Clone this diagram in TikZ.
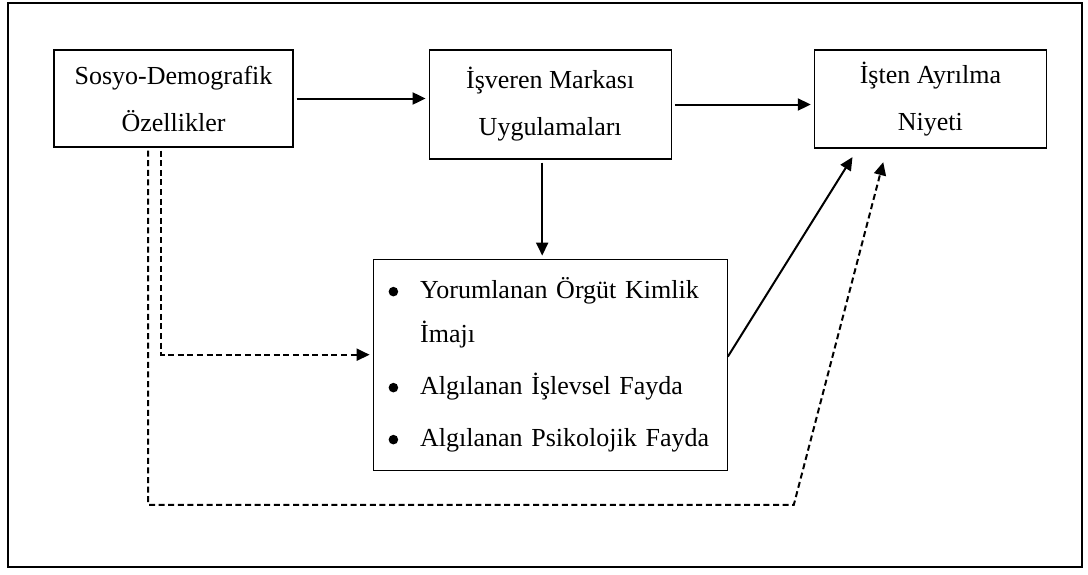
\documentclass[tikz,border=0pt]{standalone}
\usepackage{fontspec}
\setmainfont{Liberation Serif}
\usepackage{tikz}
\usetikzlibrary{positioning}
\usetikzlibrary{arrows.meta}

\newcommand{\bul}{\makebox[15.8pt][l]{\tikz[baseline=-3.4pt]\fill (0,0) circle (2.4pt);}}

\begin{document}
\begin{tikzpicture}[>={Triangle[length=6.5pt,width=6pt]},semithick,
  box/.style={draw,line width=0.6pt,inner sep=0pt,align=center,font=\fontsize{13}{23.5}\selectfont},
  line/.style={->,line width=1pt,shorten >=1.5pt,shorten <=1.5pt},
  dline/.style={line,dash pattern=on 3pt off 1.8pt}]
\useasboundingbox (0,0) rectangle (544pt,-287pt);
\draw[line width=1.2pt] (4pt,-1.5pt) rectangle (541pt,-283.5pt);

\node[box,minimum width=119.5pt,minimum height=48.5pt] (S) at (86.75pt,-49.25pt) {Sosyo-Demografik\\Özellikler};
\node[box,minimum width=121pt,minimum height=54.5pt]   (M) [right=67.5pt of S.north east,anchor=north west] {İşveren Markası\\Uygulamaları};
\node[box,minimum width=116pt,minimum height=49pt]     (N) [right=71pt of M.north east,anchor=north west] {İşten Ayrılma\\Niyeti};
\node[box,align=left,text width=161.6pt,inner xsep=7.7pt,minimum height=105.5pt,
      font=\fontsize{13}{22}\selectfont] (Y) [below=49.5pt of M]
  {\bul Yorumlanan Örgüt Kimlik\\
   \hspace*{15.8pt}İmajı\\[4pt]
   \bul Algılanan İşlevsel Fayda\\[4pt]
   \bul Algılanan Psikolojik Fayda};
\coordinate (K) at ([xshift=33pt,yshift=-17pt]Y.south east);

\draw[line] (S.east) -- (S.east -| M.west);
\draw[line] (M.east) -- (M.east -| N.west);
\draw[line] ([xshift=-4pt]M.south) -- ([xshift=-4pt]M.south |- Y.north);
\draw[line,shorten <=0pt,shorten >=5pt] ([yshift=4pt]Y.east) -- ([xshift=22pt]N.south west);
\draw[dline] ([xshift=-6.25pt]S.south) |- ([yshift=5pt]Y.west);
\draw[dline,shorten >=7pt] ([xshift=-12.75pt]S.south) |- (K) -- ([xshift=36.5pt]N.south west);
\end{tikzpicture}
\end{document}
